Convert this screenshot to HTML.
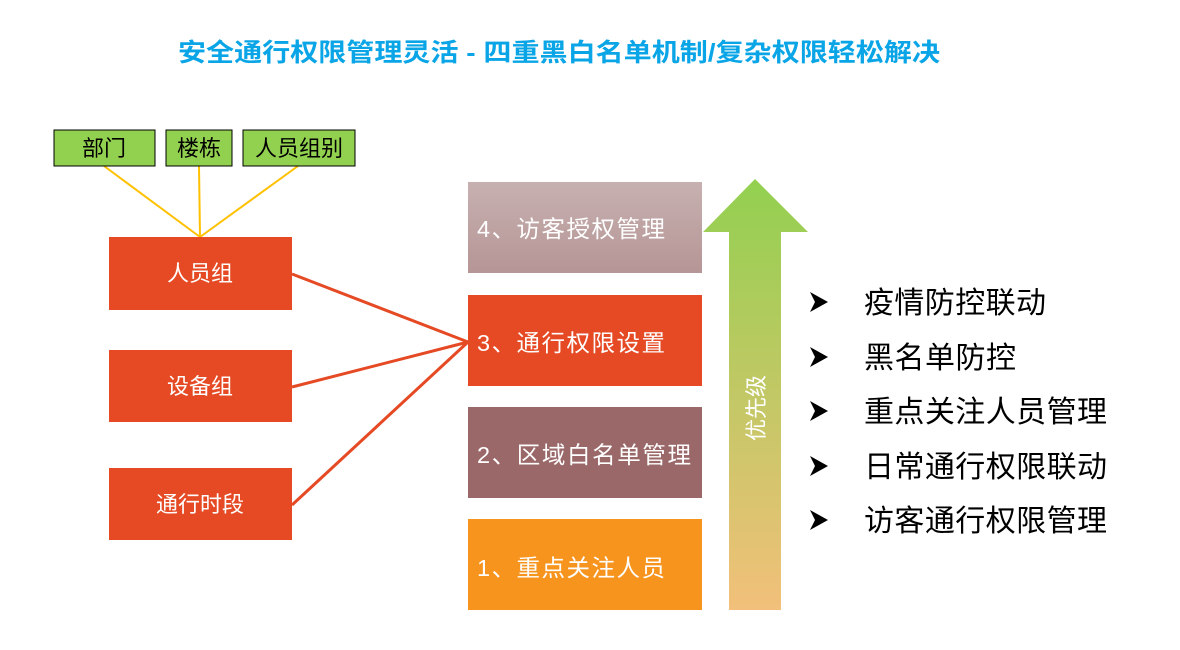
<!DOCTYPE html>
<html><head><meta charset="utf-8"><style>
html,body{margin:0;padding:0;background:#fff;}
svg{display:block}
text{font-family:"Liberation Sans","Noto Sans CJK SC",sans-serif;}
</style></head><body>
<svg width="1180" height="650" viewBox="0 0 1180 650" xmlns="http://www.w3.org/2000/svg">
<defs>
<linearGradient id="g1" x1="0" y1="0" x2="0" y2="1"><stop offset="0" stop-color="#c7b1b0"/><stop offset="1" stop-color="#b69596"/></linearGradient>
<linearGradient id="ga" x1="0" y1="179" x2="0" y2="610" gradientUnits="userSpaceOnUse"><stop offset="0" stop-color="#92d050"/><stop offset="1" stop-color="#f2c07a"/></linearGradient>
</defs>
<text x="178" y="61" font-size="25" font-weight="bold" fill="#0aa5e6" textLength="762" lengthAdjust="spacingAndGlyphs">安全通行权限管理灵活 - 四重黑白名单机制/复杂权限轻松解决</text>
<g stroke="#ffc000" stroke-width="2">
<line x1="104" y1="166" x2="200" y2="237"/><line x1="199" y1="166" x2="200" y2="237"/><line x1="298" y1="166" x2="200" y2="237"/>
</g>
<g fill="#92d050" stroke="#000" stroke-width="1">
<rect x="54" y="130" width="101" height="36"/><rect x="166" y="130" width="66" height="36"/><rect x="243" y="130" width="112" height="36"/>
</g>
<g font-size="22" fill="#000" text-anchor="middle">
<text x="104" y="156">部门</text><text x="199" y="156">楼栋</text><text x="299" y="156">人员组别</text>
</g>
<g stroke="#e54a24" stroke-width="3">
<line x1="292" y1="274" x2="468" y2="342"/><line x1="292" y1="387" x2="468" y2="342"/><line x1="292" y1="505" x2="468" y2="342"/>
</g>
<g fill="#e54a24">
<rect x="109" y="237" width="183" height="73"/><rect x="109" y="350" width="183" height="72"/><rect x="109" y="468" width="183" height="72"/>
</g>
<g font-size="22" fill="#fff" text-anchor="middle">
<text x="200" y="281">人员组</text><text x="200" y="394">设备组</text><text x="200" y="512">通行时段</text>
</g>
<rect x="468" y="182" width="234" height="91" fill="url(#g1)"/>
<rect x="468" y="295" width="234" height="91" fill="#e54a24"/>
<rect x="468" y="407" width="234" height="91" fill="#9a6868"/>
<rect x="468" y="519" width="234" height="91" fill="#f7941d"/>
<g font-size="23.5" fill="#fff">
<text x="477" y="237" textLength="188">4、访客授权管理</text><text x="477" y="351" textLength="188">3、通行权限设置</text><text x="477" y="463" textLength="214">2、区域白名单管理</text><text x="477" y="576" textLength="188">1、重点关注人员</text>
</g>
<polygon points="755,179 808,232 781,232 781,610 729,610 729,232 703,232" fill="url(#ga)"/>
<text transform="translate(764,408) rotate(-90)" font-size="22" fill="#fff" text-anchor="middle">优先级</text>
<g fill="#000">
<polygon points="810,292 828,302 810,312 815,302"/>
<polygon points="810,347 828,357 810,367 815,357"/>
<polygon points="810,401 828,411 810,421 815,411"/>
<polygon points="810,456 828,466 810,476 815,466"/>
<polygon points="810,510 828,520 810,530 815,520"/>
</g>
<g font-size="30" fill="#000">
<text x="864" y="313" textLength="182">疫情防控联动</text><text x="864" y="368" textLength="152">黑名单防控</text><text x="864" y="422" textLength="243">重点关注人员管理</text><text x="864" y="477" textLength="243">日常通行权限联动</text><text x="864" y="531" textLength="243">访客通行权限管理</text>
</g>
</svg>
</body></html>
